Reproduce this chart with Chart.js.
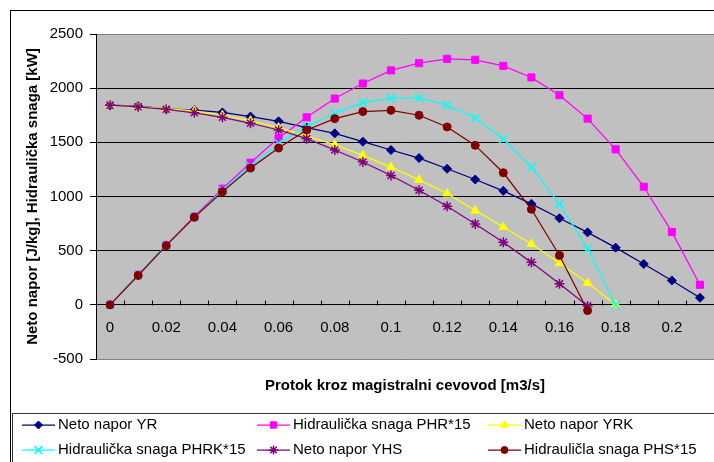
<!DOCTYPE html>
<html>
<head>
<meta charset="utf-8">
<script src="https://cdn.jsdelivr.net/npm/chart.js@4/dist/chart.umd.min.js"></script>
<style>
  body { margin: 0; background: #fff; }
  #wrap { width: 714px; height: 462px; position: relative; }
</style>
</head>
<body>
<div id="wrap"><canvas id="protokChart"></canvas></div>
<script>
const protok = ["0", "0.01", "0.02", "0.03", "0.04", "0.05", "0.06", "0.07", "0.08", "0.09", "0.1",
  "0.11", "0.12", "0.13", "0.14", "0.15", "0.16", "0.17", "0.18", "0.19", "0.2", "0.21"];

const netoYR = [1843, 1835, 1810, 1797, 1776, 1738, 1694, 1636, 1583, 1506, 1429,
  1355, 1256, 1157, 1052, 932, 799, 669, 528, 377, 225, 65];
const snagaPHR = [0, 278, 553, 815, 1072, 1312, 1540, 1731, 1904, 2043, 2164,
  2231, 2271, 2262, 2206, 2099, 1935, 1719, 1435, 1090, 673, 185];
const netoYRK = [1843, 1830, 1812, 1790, 1750, 1700, 1636, 1559, 1478, 1380, 1271,
  1154, 1028, 870, 719, 562, 386, 201, 0];
const snagaPHRK = [0, 275, 550, 810, 1058, 1282, 1490, 1645, 1768, 1867, 1910,
  1910, 1843, 1725, 1531, 1271, 932, 516, 0];
const netoYHS = [1843, 1828, 1805, 1773, 1731, 1676, 1614, 1534, 1429, 1318, 1194,
  1058, 910, 747, 577, 392, 194, -10];
const snagaPHS = [0, 271, 546, 808, 1043, 1262, 1447, 1614, 1719, 1784, 1796,
  1750, 1642, 1472, 1219, 882, 456, -53];

const FONT = "'Liberation Sans', Arial, sans-serif";

function serija(label, data, color, style, radius, order, markerWidth) {
  return {
    label: label,
    data: data,
    borderColor: color,
    backgroundColor: color,
    borderWidth: 1.25,
    pointStyle: style,
    pointRadius: radius,
    pointBorderWidth: markerWidth || 1,
    pointBorderColor: color,
    pointBackgroundColor: color,
    tension: 0,
    order: order,
  };
}

// plot background, frames, x tick marks, x title, legend box
const excelLook = {
  id: "excelLook",
  beforeDraw(chart) {
    const { ctx, chartArea } = chart;
    ctx.save();
    ctx.fillStyle = "#fff";
    ctx.fillRect(0, 0, chart.width, chart.height);
    ctx.strokeStyle = "#000";
    ctx.lineWidth = 1;
    ctx.strokeRect(10.5, 10.5, 900, 900);
    ctx.fillStyle = "#c0c0c0";
    ctx.fillRect(chartArea.left, chartArea.top, chartArea.right - chartArea.left, chartArea.bottom - chartArea.top);
    ctx.restore();
  },
  beforeDatasetsDraw(chart) {
    const { ctx, scales } = chart;
    const y0 = Math.round(scales.y.getPixelForValue(0)) + 0.5;
    const half = (scales.x.getPixelForValue(1) - scales.x.getPixelForValue(0)) / 2;
    ctx.save();
    ctx.strokeStyle = "#000";
    ctx.lineWidth = 1;
    ctx.beginPath();
    for (let i = 1; i < protok.length; i++) {
      const x = Math.round(scales.x.getPixelForValue(i) - half) + 0.5;
      ctx.moveTo(x, y0 - 5);
      ctx.lineTo(x, y0);
    }
    ctx.stroke();
    ctx.restore();
  },
  afterDraw(chart) {
    const { ctx } = chart;
    ctx.save();
    ctx.fillStyle = "#000";
    ctx.font = "bold 15px " + FONT;
    ctx.textAlign = "center";
    ctx.textBaseline = "middle";
    ctx.fillText("Protok kroz magistralni cevovod [m3/s]", 405, 386);

    // legend
    ctx.strokeStyle = "#333";
    ctx.strokeRect(12.5, 413.5, 900, 100);
    const colX = [22, 257, 488];
    const rowY = [425, 450];
    ctx.font = "15px " + FONT;
    ctx.textAlign = "left";
    chart.data.datasets.forEach((ds, i) => {
      const x = colX[i % 3];
      const y = rowY[Math.floor(i / 3)];
      ctx.strokeStyle = ds.borderColor;
      ctx.lineWidth = 1.25;
      ctx.beginPath();
      ctx.moveTo(x, y);
      ctx.lineTo(x + 33, y);
      ctx.stroke();
      ctx.fillStyle = ds.borderColor;
      ctx.lineWidth = ds.pointBorderWidth;
      Chart.helpers.drawPoint(ctx, { pointStyle: ds.pointStyle, radius: ds.pointRadius - 0.5, rotation: 0, borderWidth: ds.pointBorderWidth }, x + 16.5, y);
      ctx.fillStyle = "#000";
      ctx.fillText(ds.label, x + 36, y);
    });
    ctx.restore();
  },
};

const chart = new Chart(document.getElementById("protokChart").getContext("2d"), {
  type: "line",
  data: {
    labels: protok,
    datasets: [
      serija("Neto napor YR", netoYR, "#000080", "rectRot", 4.5, 6),
      serija("Hidraulička snaga PHR*15", snagaPHR, "#ff00ff", "rect", 5, 5),
      serija("Neto napor YRK", netoYRK, "#ffff00", "triangle", 5, 4),
      serija("Hidraulička snaga PHRK*15", snagaPHRK, "#00ffff", "crossRot", 6, 3, 1.5),
      serija("Neto napor YHS", netoYHS, "#800080", "star", 5, 2, 1.5),
      serija("Hidrauličla snaga PHS*15", snagaPHS, "#800000", "circle", 4, 1),
    ],
  },
  options: {
    responsive: true,
    maintainAspectRatio: false,
    animation: false,
    layout: {
      autoPadding: false,
      padding: { left: 10, top: 34, right: -2, bottom: 103 },
    },
    plugins: {
      legend: { display: false },
      tooltip: { enabled: false },
    },
    scales: {
      x: {
        type: "category",
        position: { y: 0 },
        offset: true,
        grid: { display: false, drawTicks: false },
        border: { display: false },
        ticks: {
          autoSkip: false,
          maxRotation: 0,
          padding: 14,
          color: "#000",
          font: { family: FONT, size: 15 },
          callback: (value, index) => (index % 2 === 0 ? protok[index] : ""),
        },
        afterFit: (scale) => {
          scale.height = 0;
          scale.paddingLeft = 0;
          scale.paddingRight = 0;
        },
      },
      y: {
        min: -500,
        max: 2500,
        ticks: {
          stepSize: 500,
          padding: 7,
          color: "#000",
          font: { family: FONT, size: 15 },
          callback: (value) => String(value),
        },
        grid: {
          color: (c) => (c.tick && (c.tick.value === 2500 || c.tick.value === -500) ? "#808080" : "#000"),
          tickColor: "#000",
          tickLength: 6,
          lineWidth: 1,
        },
        border: { color: "#000" },
        title: {
          display: true,
          text: "Neto napor [J/kg], Hidraulička snaga [kW]",
          color: "#000",
          font: { family: FONT, size: 15, weight: "bold" },
          padding: { top: 14, bottom: 0 },
        },
        afterFit: (scale) => { scale.width = 86; },
      },
    },
  },
  plugins: [excelLook],
});
</script>
</body>
</html>
